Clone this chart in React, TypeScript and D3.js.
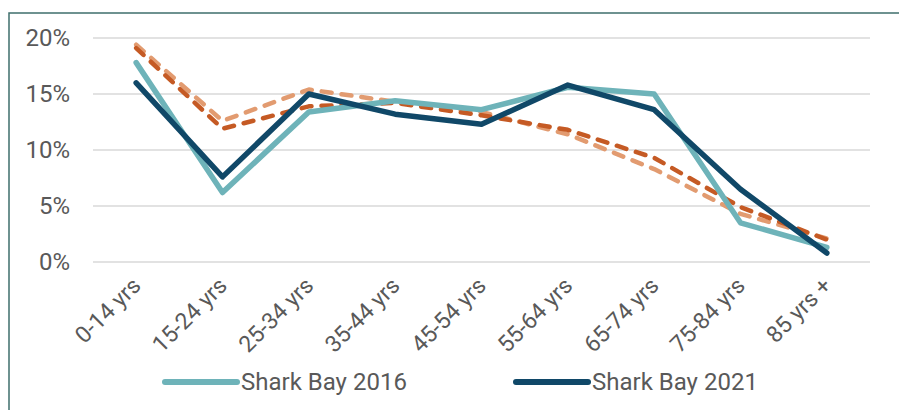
import React, { useRef, useEffect } from "react";
import * as d3 from "d3";

const categories = [
  "0-14 yrs",
  "15-24 yrs",
  "25-34 yrs",
  "35-44 yrs",
  "45-54 yrs",
  "55-64 yrs",
  "65-74 yrs",
  "75-84 yrs",
  "85 yrs +",
];

const sharkBay2016 = [17.8, 6.2, 13.4, 14.4, 13.6, 15.6, 15.0, 3.5, 1.3];
const sharkBay2021 = [16.0, 7.6, 15.0, 13.2, 12.3, 15.8, 13.6, 6.5, 0.8];
const wa2016 = [19.4, 12.6, 15.4, 14.3, 13.4, 11.4, 8.3, 4.3, 2.1];
const wa2021 = [19.1, 11.9, 13.9, 14.2, 13.1, 11.8, 9.3, 4.9, 2.0];

const yTicks = [0, 5, 10, 15, 20];

const series = [
  { name: "WA 2016", values: wa2016, color: "#E29B70", width: 4.5, dash: "10 10", legend: false },
  { name: "WA 2021", values: wa2021, color: "#C55A24", width: 4.5, dash: "10 10", legend: false },
  { name: "Shark Bay 2016", values: sharkBay2016, color: "#6EB3B9", width: 5.5, dash: null, legend: true },
  { name: "Shark Bay 2021", values: sharkBay2021, color: "#104868", width: 5.5, dash: null, legend: true },
];

const W = 899;
const H = 410;

const App = () => {
  const ref = useRef<SVGSVGElement>(null);

  useEffect(() => {
    const svg = d3.select(ref.current);
    svg.selectAll("*").remove();

    const font = "Roboto, sans-serif";
    const textColor = "#595959";

    // outer frame (runs off the right/bottom edge)
    svg
      .append("rect")
      .attr("x", 9)
      .attr("y", 13)
      .attr("width", 960)
      .attr("height", 460)
      .attr("fill", "none")
      .attr("stroke", "#3f6f6c")
      .attr("stroke-width", 1.5);

    const x = d3.scaleBand().domain(categories).range([93, 870]);
    const y = d3.scaleLinear().domain([0, 20]).range([262, 38]);

    const grid = svg.append("g");
    grid
      .selectAll("line")
      .data(yTicks)
      .enter()
      .append("line")
      .attr("x1", 93)
      .attr("x2", 870)
      .attr("y1", (d) => y(d))
      .attr("y2", (d) => y(d))
      .attr("stroke", "#d9d9d9")
      .attr("stroke-width", 1.5);

    grid
      .selectAll("text")
      .data(yTicks)
      .enter()
      .append("text")
      .attr("x", 70)
      .attr("y", (d) => y(d))
      .attr("dy", "0.35em")
      .attr("text-anchor", "end")
      .style("font-family", font)
      .style("font-size", "24px")
      .style("fill", textColor)
      .text((d) => `${d}%`);

    // x labels, rotated
    svg
      .append("g")
      .selectAll("text")
      .data(categories)
      .enter()
      .append("text")
      .attr(
        "transform",
        (d) => `translate(${x(d)! + x.bandwidth() / 2 + 6},${287}) rotate(-45)`
      )
      .attr("text-anchor", "end")
      .style("font-family", font)
      .style("font-size", "23px")
      .style("fill", textColor)
      .text((d) => d);

    const line = d3
      .line<number>()
      .x((_, i) => x(categories[i])! + x.bandwidth() / 2)
      .y((d) => y(d));

    svg
      .append("g")
      .selectAll("path")
      .data(series)
      .enter()
      .append("path")
      .attr("d", (s) => line(s.values))
      .attr("fill", "none")
      .attr("stroke", (s) => s.color)
      .attr("stroke-width", (s) => s.width)
      .attr("stroke-dasharray", (s) => s.dash)
      .attr("stroke-linecap", "round")
      .attr("stroke-linejoin", "round");

    // legend
    const legendItems = series.filter((s) => s.legend);
    const legendX = [165, 516];
    const lg = svg
      .append("g")
      .selectAll("g")
      .data(legendItems)
      .enter()
      .append("g")
      .attr("transform", (_, i) => `translate(${legendX[i]},382)`);
    lg.append("line")
      .attr("x1", 0)
      .attr("x2", 72)
      .attr("stroke", (s) => s.color)
      .attr("stroke-width", 6)
      .attr("stroke-linecap", "round");
    lg.append("text")
      .attr("x", 76)
      .attr("dy", "0.35em")
      .style("font-family", font)
      .style("font-size", "24px")
      .style("fill", textColor)
      .text((s) => s.name);
  }, []);

  return (
    <svg
      ref={ref}
      width={W}
      height={H}
      style={{ position: "absolute", left: 0, top: 0, background: "#fff" }}
    ></svg>
  );
};

export default App;
